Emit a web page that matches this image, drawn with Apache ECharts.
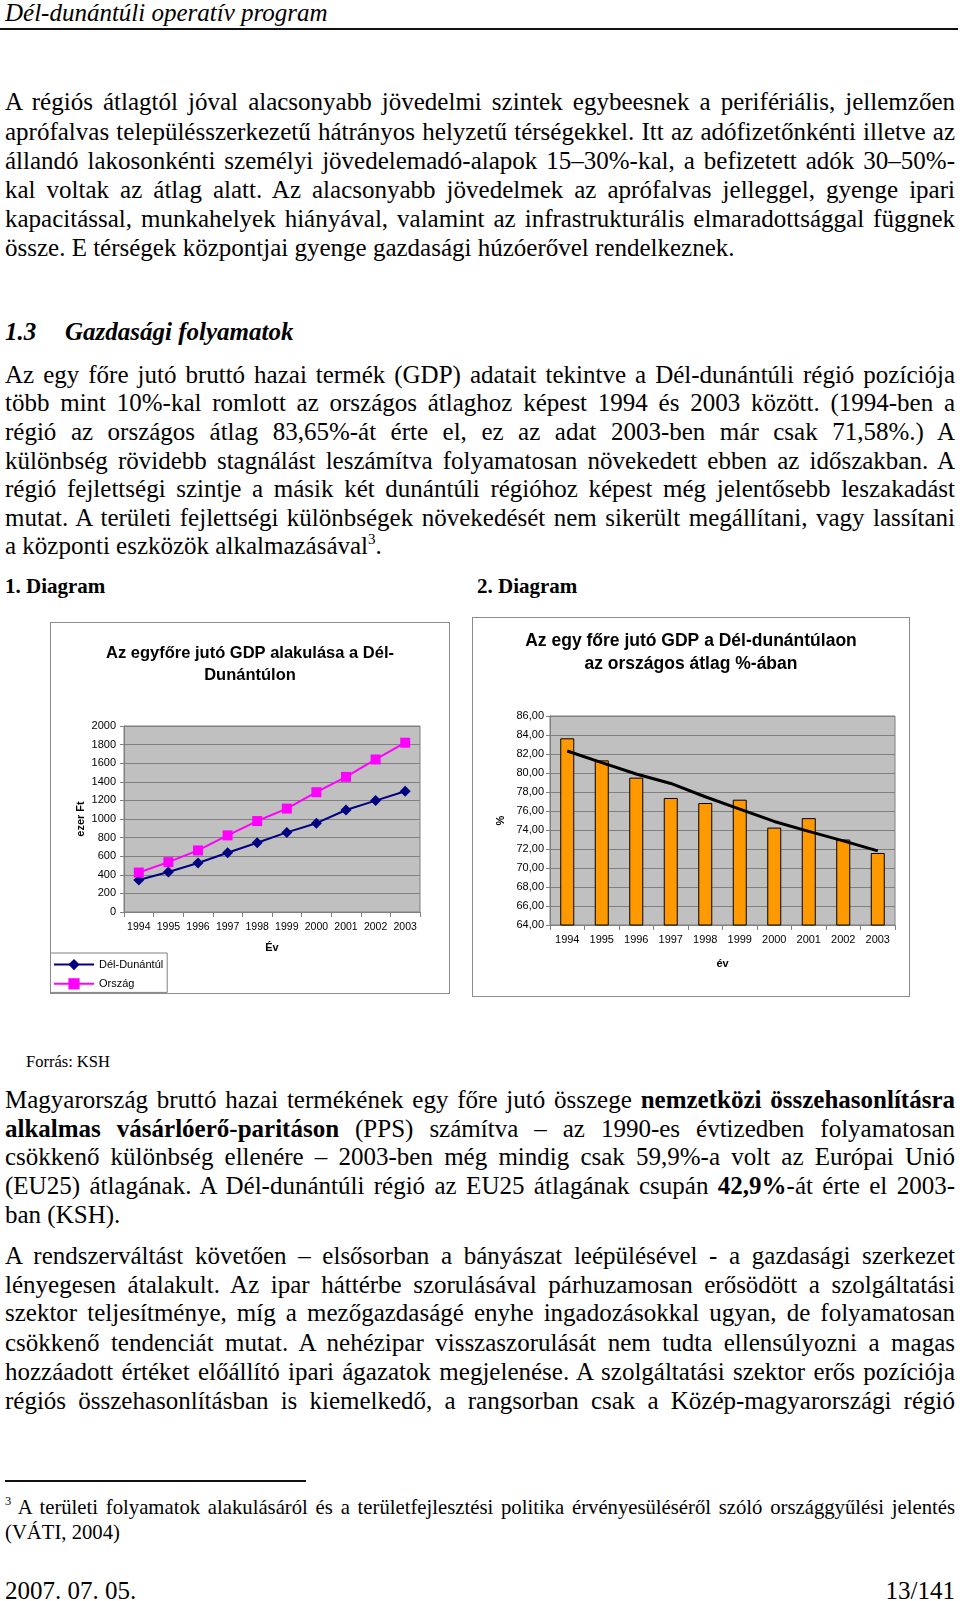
<!DOCTYPE html>
<html>
<head>
<meta charset="utf-8">
<script src="https://cdn.jsdelivr.net/npm/echarts@6/dist/echarts.min.js"></script>
<style>
html,body{margin:0;padding:0;background:#fff;}
body{width:960px;height:1601px;position:relative;overflow:hidden;font-family:"Liberation Serif","Times New Roman",serif;color:#000;}
.t{position:absolute;left:5px;font-size:25px;line-height:28px;white-space:nowrap;}
.fn{font-size:20.7px;line-height:24px;}
.box{position:absolute;border:1px solid #8c8c8c;background:#fff;}
sup{font-size:60%;line-height:0;vertical-align:0.7em;}
</style>
</head>
<body>
<div class="t" style="top:-1px;font-style:italic;">Dél-dunántúli operatív program</div>
<div style="position:absolute;left:0;top:28px;width:958px;height:2px;background:#111;"></div>

<div class="t j" style="top:88px;">A régiós átlagtól jóval alacsonyabb jövedelmi szintek egybeesnek a perifériális, jellemzően</div>
<div class="t j" style="top:118px;">aprófalvas településszerkezetű hátrányos helyzetű térségekkel. Itt az adófizetőnkénti illetve az</div>
<div class="t j" style="top:147px;">állandó lakosonkénti személyi jövedelemadó-alapok 15–30%-kal, a befizetett adók 30–50%-</div>
<div class="t j" style="top:176px;">kal voltak az átlag alatt. Az alacsonyabb jövedelmek az aprófalvas jelleggel, gyenge ipari</div>
<div class="t j" style="top:205px;">kapacitással, munkahelyek hiányával, valamint az infrastrukturális elmaradottsággal függnek</div>
<div class="t" style="top:234px;">össze. E térségek központjai gyenge gazdasági húzóerővel rendelkeznek.</div>

<div class="t" style="top:318px;font-weight:bold;font-style:italic;">1.3</div>
<div class="t" style="top:318px;left:65px;font-weight:bold;font-style:italic;">Gazdasági folyamatok</div>

<div class="t j" style="top:361px;">Az egy főre jutó bruttó hazai termék (GDP) adatait tekintve a Dél-dunántúli régió pozíciója</div>
<div class="t j" style="top:389px;">több mint 10%-kal romlott az országos átlaghoz képest 1994 és 2003 között. (1994-ben a</div>
<div class="t j" style="top:418px;">régió az országos átlag 83,65%-át érte el, ez az adat 2003-ben már csak 71,58%.) A</div>
<div class="t j" style="top:447px;">különbség rövidebb stagnálást leszámítva folyamatosan növekedett ebben az időszakban. A</div>
<div class="t j" style="top:475px;">régió fejlettségi szintje a másik két dunántúli régióhoz képest még jelentősebb leszakadást</div>
<div class="t j" style="top:504px;">mutat. A területi fejlettségi különbségek növekedését nem sikerült megállítani, vagy lassítani</div>
<div class="t" style="top:532px;">a központi eszközök alkalmazásával<sup>3</sup>.</div>

<div class="t" style="top:574px;font-size:21px;line-height:24px;font-weight:bold;">1. Diagram</div>
<div class="t" style="top:574px;left:477px;font-size:21px;line-height:24px;font-weight:bold;">2. Diagram</div>

<div class="box" style="left:50px;top:622px;width:398px;height:370px;"><div id="c1" style="width:398px;height:370px;"></div></div>
<div class="box" style="left:472px;top:617px;width:436px;height:378px;"><div id="c2" style="width:436px;height:378px;"></div></div>

<div class="t" style="top:1052px;left:26px;font-size:16.5px;line-height:20px;">Forrás: KSH</div>

<div class="t j" style="top:1086px;">Magyarország bruttó hazai termékének egy főre jutó összege <b>nemzetközi összehasonlításra</b></div>
<div class="t j" style="top:1115px;"><b>alkalmas vásárlóerő-paritáson</b> (PPS) számítva – az 1990-es évtizedben folyamatosan</div>
<div class="t j" style="top:1143px;">csökkenő különbség ellenére – 2003-ben még mindig csak 59,9%-a volt az Európai Unió</div>
<div class="t j" style="top:1172px;">(EU25) átlagának. A Dél-dunántúli régió az EU25 átlagának csupán <b>42,9%</b>-át érte el 2003-</div>
<div class="t" style="top:1201px;">ban (KSH).</div>

<div class="t j" style="top:1242px;">A rendszerváltást követően – elsősorban a bányászat leépülésével - a gazdasági szerkezet</div>
<div class="t j" style="top:1271px;">lényegesen átalakult. Az ipar háttérbe szorulásával párhuzamosan erősödött a szolgáltatási</div>
<div class="t j" style="top:1299px;">szektor teljesítménye, míg a mezőgazdaságé enyhe ingadozásokkal ugyan, de folyamatosan</div>
<div class="t j" style="top:1329px;">csökkenő tendenciát mutat. A nehézipar visszaszorulását nem tudta ellensúlyozni a magas</div>
<div class="t j" style="top:1358px;">hozzáadott értéket előállító ipari ágazatok megjelenése. A szolgáltatási szektor erős pozíciója</div>
<div class="t j" style="top:1387px;">régiós összehasonlításban is kiemelkedő, a rangsorban csak a Közép-magyarországi régió</div>

<div style="position:absolute;left:5px;top:1480px;width:301px;height:2px;background:#111;"></div>
<div class="t fn j" style="top:1495px;"><sup>3</sup> A területi folyamatok alakulásáról és a területfejlesztési politika érvényesüléséről szóló országgyűlési jelentés</div>
<div class="t fn" style="top:1520px;">(VÁTI, 2004)</div>

<div class="t" style="top:1577px;">2007. 07. 05.</div>
<div class="t" style="top:1577px;left:auto;right:5px;">13/141</div>

<script>
// ---- Data ----
const years = ['1994','1995','1996','1997','1998','1999','2000','2001','2002','2003'];
const delDunantul = [345, 430, 527, 637, 745, 856, 955, 1097, 1198, 1298];
const orszag = [424, 536, 662, 824, 978, 1112, 1288, 1453, 1640, 1820];
const pctOfNational = [83.65, 81.33, 79.51, 77.37, 76.84, 77.19, 74.25, 75.25, 73.0, 71.58];
const trendLine = [82.32, 81.09, 79.9, 78.9, 77.5, 76.2, 74.9, 73.85, 72.85, 71.8];
const axis1 = {min: 0, max: 2000, interval: 200};
const axis2 = {min: 64, max: 86, interval: 2};

// ---- justify text lines ----
document.querySelectorAll('.j').forEach(function(el){
  const w = el.getBoundingClientRect().width;
  const n = (el.textContent.match(/ /g) || []).length;
  if (n > 0) el.style.wordSpacing = ((950 - w) / n) + 'px';
});

const SANS = 'Liberation Sans, Arial, sans-serif';
const grey = '#808080';

const c1 = echarts.init(document.getElementById('c1'));
c1.setOption({
  animation: false,
  backgroundColor: '#fff',
  textStyle: {fontFamily: SANS},
  title: {
    text: 'Az egyfőre jutó GDP alakulása a Dél-\nDunántúlon',
    left: 'center', top: 14,
    textStyle: {fontFamily: SANS, fontWeight: 'bold', fontSize: 16.5, lineHeight: 22, color: '#000'}
  },
  grid: {left: 73, top: 103, right: 29, bottom: 81, show: true, backgroundColor: '#C0C0C0', borderColor: grey, borderWidth: 1},
  legend: {
    orient: 'vertical', left: -1, top: 330,
    padding: [6, 4, 3, 3], itemGap: 8, itemWidth: 40, itemHeight: 14,
    borderColor: grey, borderWidth: 1, backgroundColor: '#fff',
    textStyle: {fontFamily: SANS, fontSize: 11, color: '#000'},
    data: ['Dél-Dunántúl', 'Ország']
  },
  xAxis: {
    type: 'category', data: years, boundaryGap: true,
    name: 'Év', nameLocation: 'middle', nameGap: 30, nameMoveOverlap: false,
    nameTextStyle: {fontFamily: SANS, fontWeight: 'bold', fontSize: 11, color: '#000'},
    axisLine: {lineStyle: {color: grey}},
    axisTick: {show: true, length: 5, lineStyle: {color: grey}},
    axisLabel: {fontFamily: SANS, fontSize: 10.5, color: '#000', margin: 10, interval: 0, hideOverlap: false}
  },
  yAxis: {
    type: 'value', min: axis1.min, max: axis1.max, interval: axis1.interval,
    name: 'ezer Ft', nameLocation: 'middle', nameGap: 38, nameRotate: 90, nameMoveOverlap: false,
    nameTextStyle: {fontFamily: SANS, fontWeight: 'bold', fontSize: 11, color: '#000'},
    axisLine: {show: true, lineStyle: {color: grey}},
    axisTick: {show: true, length: 4, lineStyle: {color: grey}},
    axisLabel: {fontFamily: SANS, fontSize: 11, color: '#000', margin: 8,
      formatter: function(v){ return String(v); }},
    splitLine: {lineStyle: {color: grey, width: 1}}
  },
  series: [
    {name: 'Dél-Dunántúl', type: 'line', data: delDunantul, symbol: 'diamond', symbolSize: 11,
     lineStyle: {color: '#000080', width: 2}, itemStyle: {color: '#000080'}},
    {name: 'Ország', type: 'line', data: orszag, symbol: 'rect', symbolSize: 10,
     lineStyle: {color: '#FF00FF', width: 2}, itemStyle: {color: '#FF00FF'}}
  ]
});

const c2 = echarts.init(document.getElementById('c2'));
c2.setOption({
  animation: false,
  backgroundColor: '#fff',
  textStyle: {fontFamily: SANS},
  title: {
    text: 'Az egy főre jutó GDP a Dél-dunántúlaon\naz országos átlag %-ában',
    left: 'center', top: 7,
    textStyle: {fontFamily: SANS, fontWeight: 'bold', fontSize: 17.5, lineHeight: 23, color: '#000'}
  },
  grid: {left: 77, top: 98, right: 14, bottom: 71, show: true, backgroundColor: '#C0C0C0', borderColor: grey, borderWidth: 1},
  xAxis: {
    type: 'category', data: years, boundaryGap: true,
    name: 'év', nameLocation: 'middle', nameGap: 33, nameMoveOverlap: false,
    nameTextStyle: {fontFamily: SANS, fontWeight: 'bold', fontSize: 11, color: '#000'},
    axisLine: {lineStyle: {color: grey}},
    axisTick: {show: true, length: 5, lineStyle: {color: grey}},
    axisLabel: {fontFamily: SANS, fontSize: 11, color: '#000', margin: 9, interval: 0}
  },
  yAxis: {
    type: 'value', min: axis2.min, max: axis2.max, interval: axis2.interval,
    name: '%', nameLocation: 'middle', nameGap: 44, nameRotate: 90, nameMoveOverlap: false,
    nameTextStyle: {fontFamily: SANS, fontWeight: 'bold', fontSize: 11, color: '#000'},
    axisLine: {show: true, lineStyle: {color: grey}},
    axisTick: {show: true, length: 4, lineStyle: {color: grey}},
    axisLabel: {fontFamily: SANS, fontSize: 11, color: '#000', margin: 6,
      formatter: function(v){ return v.toFixed(2).replace('.', ','); }},
    splitLine: {lineStyle: {color: grey, width: 1}}
  },
  series: [
    {name: '%', type: 'bar', data: pctOfNational, barWidth: 14,
     itemStyle: {color: '#FF9900', borderColor: '#000', borderWidth: 1}},
    {name: 'trend', type: 'line', data: trendLine, symbol: 'none', z: 5,
     lineStyle: {color: '#000', width: 3}}
  ]
});
</script>
</body>
</html>
